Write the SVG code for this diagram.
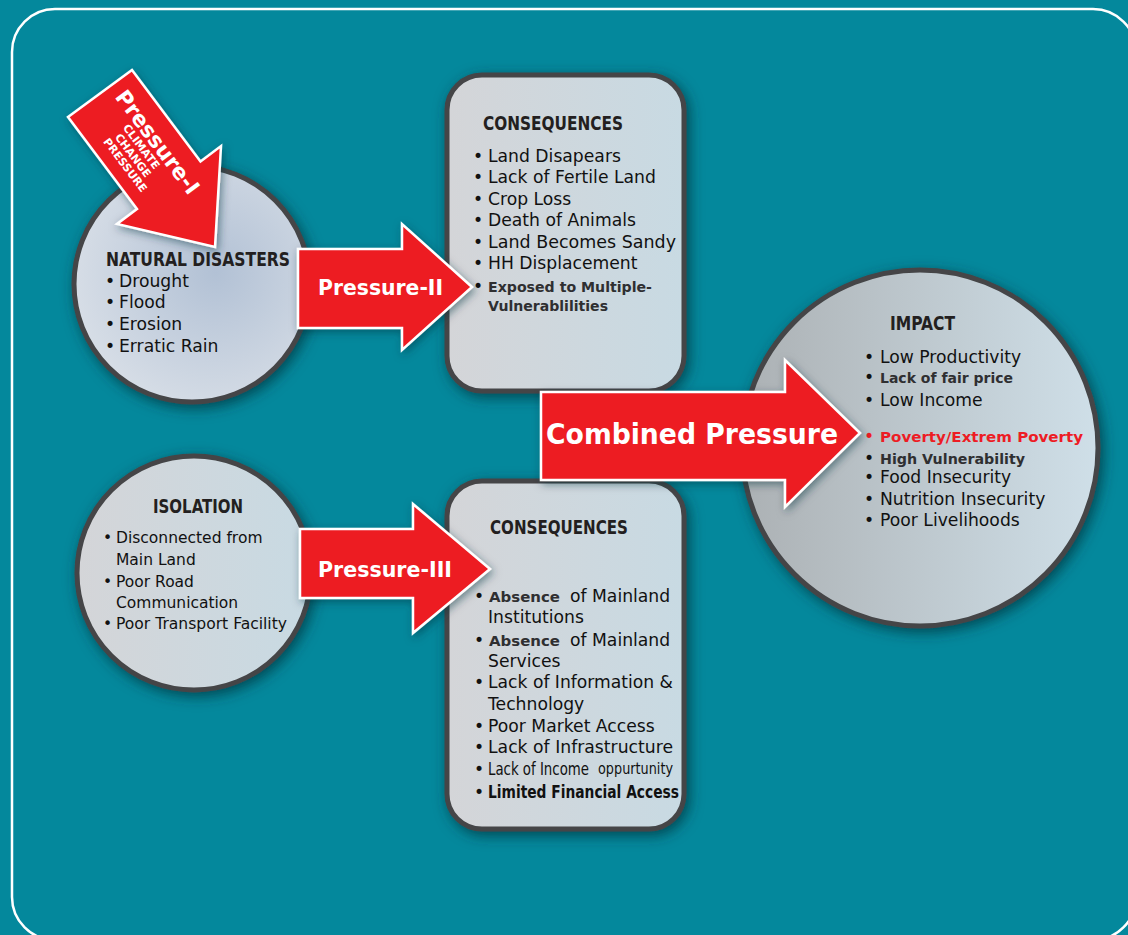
<svg xmlns="http://www.w3.org/2000/svg" width="1128" height="935" viewBox="0 0 1128 935">
<defs>
<style>
.bg{fill:#04889c}
.frame{fill:none;stroke:#fff;stroke-width:2.5}
.node{stroke:#444547;stroke-width:5}
.arrow{fill:#ed1c24;stroke:#fff;stroke-width:2.5;stroke-linejoin:miter}
.hd{font-family:"Liberation Sans Narrow","DejaVu Sans Condensed","Liberation Sans",sans-serif;font-weight:bold;fill:#231f20}
.t{font-family:"DejaVu Sans","Noto Sans",sans-serif;font-size:17.2px;fill:#111}
.s{font-family:"DejaVu Sans","Noto Sans",sans-serif;font-size:14px;font-weight:bold;fill:#2f2f31}
.c{font-family:"Liberation Sans Narrow","DejaVu Sans Condensed","Liberation Sans",sans-serif;fill:#111}
.w{font-family:"DejaVu Sans","Noto Sans",sans-serif;font-weight:bold;fill:#fff}
.red{fill:#ed1c24}
</style>
<filter id="sh" x="-20%" y="-20%" width="140%" height="140%">
<feDropShadow dx="3" dy="4" stdDeviation="7" flood-color="#00303a" flood-opacity="0.75"/>
</filter>
<filter id="sh2" x="-20%" y="-20%" width="140%" height="140%">
<feDropShadow dx="2" dy="3" stdDeviation="4" flood-color="#00303a" flood-opacity="0.5"/>
</filter>
<radialGradient id="gNat" cx="0.6" cy="0.45" r="0.6">
<stop offset="0" stop-color="#b2c1d5"/>
<stop offset="1" stop-color="#d6dde6"/>
</radialGradient>
<linearGradient id="gBox" x1="0" y1="0" x2="1" y2="0">
<stop offset="0" stop-color="#d4d5d8"/>
<stop offset="1" stop-color="#c8dae3"/>
</linearGradient>
<linearGradient id="gImp" x1="0" y1="0" x2="1" y2="0">
<stop offset="0" stop-color="#acb1b4"/>
<stop offset="1" stop-color="#cfdfe8"/>
</linearGradient>
</defs>

<rect class="bg" x="0" y="0" width="1128" height="935"/>
<rect class="frame" x="12" y="9" width="1124" height="931" rx="43" ry="43"/>

<g id="natural-disasters">
<circle class="node" cx="192" cy="284" r="118" fill="url(#gNat)" filter="url(#sh)"/>
<text class="hd" x="106" y="266" font-size="19" textLength="184" lengthAdjust="spacingAndGlyphs">NATURAL DISASTERS</text>
<text class="t" y="287"><tspan x="105">•</tspan><tspan x="119">Drought</tspan></text>
<text class="t" y="308"><tspan x="105">•</tspan><tspan x="119">Flood</tspan></text>
<text class="t" y="330"><tspan x="105">•</tspan><tspan x="119">Erosion</tspan></text>
<text class="t" y="352"><tspan x="105">•</tspan><tspan x="119">Erratic Rain</tspan></text>
</g>

<g id="isolation">
<circle class="node" cx="194" cy="573" r="117" fill="url(#gBox)" filter="url(#sh)"/>
<text class="hd" x="153" y="513" font-size="19" textLength="90" lengthAdjust="spacingAndGlyphs">ISOLATION</text>
<text class="t" y="543" style="font-size:15.5px"><tspan x="103">•</tspan><tspan x="116">Disconnected from</tspan></text>
<text class="t" x="116" y="565" style="font-size:15.5px">Main Land</text>
<text class="t" y="587" style="font-size:15.5px"><tspan x="103">•</tspan><tspan x="116">Poor Road</tspan></text>
<text class="t" x="116" y="608" style="font-size:15.5px">Communication</text>
<text class="t" y="629" style="font-size:15.5px"><tspan x="103">•</tspan><tspan x="116" textLength="171" lengthAdjust="spacingAndGlyphs">Poor Transport Facility</tspan></text>
</g>

<g id="consequences-1">
<rect class="node" x="447" y="75" width="237" height="316" rx="35" ry="35" fill="url(#gBox)" filter="url(#sh)"/>
<text class="hd" x="483" y="130" font-size="20" textLength="140" lengthAdjust="spacingAndGlyphs">CONSEQUENCES</text>
<text class="t" y="162"><tspan x="473">•</tspan><tspan x="488">Land Disapears</tspan></text>
<text class="t" y="183"><tspan x="473">•</tspan><tspan x="488">Lack of Fertile Land</tspan></text>
<text class="t" y="205"><tspan x="473">•</tspan><tspan x="488">Crop Loss</tspan></text>
<text class="t" y="226"><tspan x="473">•</tspan><tspan x="488">Death of Animals</tspan></text>
<text class="t" y="248"><tspan x="473">•</tspan><tspan x="488" textLength="188" lengthAdjust="spacingAndGlyphs">Land Becomes Sandy</tspan></text>
<text class="t" y="269"><tspan x="473">•</tspan><tspan x="488">HH Displacement</tspan></text>
<text class="t" x="473" y="292">•</text>
<text class="s" x="488" y="292" textLength="164" lengthAdjust="spacingAndGlyphs">Exposed to Multiple-</text>
<text class="s" x="488" y="311" textLength="120" lengthAdjust="spacingAndGlyphs">Vulnerablilities</text>
</g>

<g id="consequences-2">
<rect class="node" x="447" y="481" width="237" height="348" rx="35" ry="35" fill="url(#gBox)" filter="url(#sh)"/>
<text class="hd" x="490" y="534" font-size="20" textLength="138" lengthAdjust="spacingAndGlyphs">CONSEQUENCES</text>
<text class="t" x="474" y="602">•</text>
<text class="s" x="489" y="602" textLength="71" lengthAdjust="spacingAndGlyphs">Absence</text>
<text class="t" x="570" y="602">of Mainland</text>
<text class="t" x="488" y="623">Institutions</text>
<text class="t" x="474" y="646">•</text>
<text class="s" x="489" y="646" textLength="71" lengthAdjust="spacingAndGlyphs">Absence</text>
<text class="t" x="570" y="646">of Mainland</text>
<text class="t" x="488" y="667">Services</text>
<text class="t" y="688"><tspan x="474">•</tspan><tspan x="488" textLength="185" lengthAdjust="spacingAndGlyphs">Lack of Information &amp;</tspan></text>
<text class="t" x="488" y="710">Technology</text>
<text class="t" y="732"><tspan x="474">•</tspan><tspan x="488">Poor Market Access</tspan></text>
<text class="t" y="753"><tspan x="474">•</tspan><tspan x="488" textLength="185" lengthAdjust="spacingAndGlyphs">Lack of Infrastructure</tspan></text>
<text class="t" x="474" y="775">•</text>
<text class="c" x="488" y="775" font-size="17" textLength="101" lengthAdjust="spacingAndGlyphs">Lack of Income</text>
<text class="c" x="598" y="774" font-size="15" textLength="75" lengthAdjust="spacingAndGlyphs">oppurtunity</text>
<text class="t" x="474" y="798">•</text>
<text class="c" x="488" y="798" font-size="17.5" font-weight="bold" fill="#222" textLength="191" lengthAdjust="spacingAndGlyphs">Limited Financial Access</text>
</g>

<g id="impact">
<circle class="node" cx="920" cy="448" r="178" fill="url(#gImp)" stroke="#555" filter="url(#sh)"/>
<text class="hd" x="890" y="330" font-size="19" textLength="65" lengthAdjust="spacingAndGlyphs">IMPACT</text>
<text class="t" y="363"><tspan x="864">•</tspan><tspan x="880">Low Productivity</tspan></text>
<text class="t" x="864" y="383">•</text>
<text class="s" x="880" y="383" textLength="133" lengthAdjust="spacingAndGlyphs">Lack of fair price</text>
<text class="t" y="406"><tspan x="864">•</tspan><tspan x="880">Low Income</tspan></text>
<text class="t red" x="864" y="442">•</text>
<text class="s red" x="880" y="442" font-size="15" textLength="203" lengthAdjust="spacingAndGlyphs">Poverty/Extrem Poverty</text>
<text class="t" x="864" y="464">•</text>
<text class="s" x="880" y="464" textLength="145" lengthAdjust="spacingAndGlyphs">High Vulnerability</text>
<text class="t" y="483"><tspan x="864">•</tspan><tspan x="880">Food Insecurity</tspan></text>
<text class="t" y="505"><tspan x="864">•</tspan><tspan x="880">Nutrition Insecurity</tspan></text>
<text class="t" y="526"><tspan x="864">•</tspan><tspan x="880">Poor Livelihoods</tspan></text>
</g>

<g id="connectors">
<g id="pressure-1">
<polygon class="arrow" filter="url(#sh2)" points="132,70 200.5,161.4 221,146 215,247 117,224 137,209 68,117"/>
<g transform="translate(151.5,146.5) rotate(53)">
<text class="w" x="0" y="0" font-size="21.5" text-anchor="middle" textLength="124" lengthAdjust="spacingAndGlyphs">Pressure-I</text>
<text class="w" x="-6" y="12" font-size="11" text-anchor="middle">CLIMATE</text>
<text class="w" x="-4" y="24" font-size="11" text-anchor="middle">CHANGE</text>
<text class="w" x="-1" y="36" font-size="11" text-anchor="middle">PRESSURE</text>
</g>
</g>
<g id="pressure-2">
<polygon class="arrow" filter="url(#sh2)" points="298,249 402,249 402,224 472,287 402,350 402,328 298,328"/>
<text class="w" x="318" y="295" font-size="20.5" textLength="125" lengthAdjust="spacingAndGlyphs">Pressure-II</text>
</g>
<g id="pressure-3">
<polygon class="arrow" filter="url(#sh2)" points="300,529 413,529 413,504 490,569 413,633 413,598 300,598"/>
<text class="w" x="318" y="577" font-size="20.5" textLength="134" lengthAdjust="spacingAndGlyphs">Pressure-III</text>
</g>
<g id="combined-pressure">
<polygon class="arrow" filter="url(#sh2)" points="541,392 785,392 785,360 860,433 785,507 785,480 541,480"/>
<text class="w" x="546" y="444" font-size="27.5" textLength="292" lengthAdjust="spacingAndGlyphs">Combined Pressure</text>
</g>
</g>
</svg>
